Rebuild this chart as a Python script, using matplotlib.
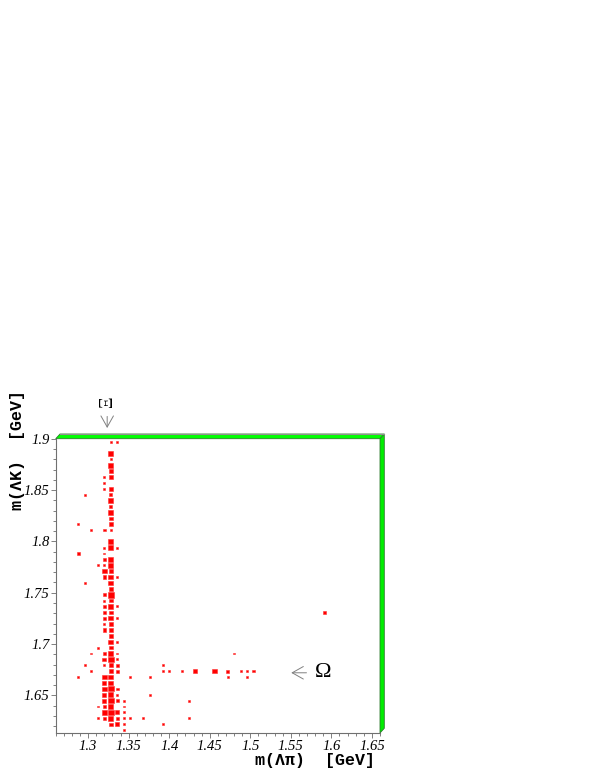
import numpy as np
import matplotlib
matplotlib.use("Agg")
import matplotlib.pyplot as plt
from matplotlib.patches import Rectangle, Polygon
from matplotlib.ticker import MultipleLocator, FuncFormatter

# tick labels in ROOT's italic Times
plt.rcParams["font.family"] = "Liberation Serif"
plt.rcParams["font.style"] = "italic"

# binning of the 2D histogram (box display)
x_lo, x_hi, nx = 1.26, 1.66, 50
y_hi, ny = 1.9, 50
bw = (x_hi - x_lo) / nx
bh = 0.005733
y_lo = y_hi - ny * bh

# filled bins: x bin offset from the Xi column, y row from the top, entries
xi_bin = 8
row_top = [0, 0, 2, 3, 4, 5, 6, 6, 7, 8, 8, 9, 9, 10, 11, 12, 13, 14, 14,
           15, 15, 15, 17, 18, 18, 18, 19, 19, 20, 20, 21, 21, 21, 22, 22,
           23, 23, 23, 24, 24, 25, 26, 26, 27, 27, 28, 28, 28, 29, 29, 29,
           30, 30, 30, 31, 31, 32, 32, 33, 34, 34, 35, 35,
           36, 36, 36, 36, 36, 37, 37, 37, 38, 38, 38, 38, 38,
           39, 39, 39, 39, 39, 39, 39, 39, 39, 39, 39, 39,
           40, 40, 40, 40, 40, 40, 40, 41, 41, 42, 42, 42, 43, 43, 43, 43,
           44, 44, 44, 44, 44, 45, 45, 45, 45, 46, 46, 46, 46,
           47, 47, 47, 47, 47, 47, 47, 47, 48, 48, 48, 48, 49]
col_off = [0, 1, 0, 0, 0, 0, -1, 0, -1, -1, 0, -4, 0, 0, 0, 0, 0, -5, 0,
           -3, -1, 0, 0, -1, 0, 1, -5, -1, -1, 0, -2, -1, 0, -1, 0,
           -1, 0, 1, -4, 0, 0, -1, 0, -1, 0, -1, 0, 1, -1, 0, 33,
           -1, 0, 1, -1, 0, -1, 0, 0, 0, 1, -2, 0,
           -3, -1, 0, 1, 19, -1, 0, 1, -4, -1, 0, 1, 8,
           -3, 0, 1, 8, 9, 11, 13, 16, 18, 20, 21, 22,
           -5, -1, 0, 3, 6, 18, 21, -1, 0, -1, 0, 1, -1, 0, 1, 6,
           -1, 0, 1, 2, 12, -2, -1, 0, 2, -1, 0, 1, 2,
           -2, -1, 0, 1, 2, 3, 5, 12, 0, 1, 2, 8, 2]
entries = [1, 1, 6, 1, 6, 4, 1, 3, 1, 1, 4, 1, 2, 6, 2, 6, 3, 1, 4,
           1, 2, 1, 6, 1, 6, 1, 2, 1, 2, 6, 1, 1, 6, 5, 4,
           3, 6, 1, 1, 6, 4, 3, 9, 1, 3, 2, 6, 1, 3, 3, 2,
           3, 5, 1, 1, 3, 3, 4, 4, 5, 1, 1, 3,
           1, 3, 5, 1, 1, 4, 7, 1, 1, 1, 4, 3, 1,
           1, 4, 3, 1, 1, 1, 5, 5, 3, 1, 1, 1,
           1, 6, 6, 1, 1, 1, 1, 4, 6, 6, 7, 2, 4, 6, 1, 1,
           4, 7, 2, 1, 1, 1, 3, 6, 1, 6, 9, 4, 1,
           1, 2, 6, 2, 1, 1, 1, 1, 3, 4, 1, 1, 1]

x_center = x_lo + bw * (xi_bin + np.array(col_off) + 0.5)
y_center = y_hi - bh * (np.array(row_top) + 0.5)
counts = np.array(entries, dtype=float)

fig = plt.figure(figsize=(5.95, 7.70), dpi=100)
W, H = 595.0, 770.0
ax = fig.add_axes([55.7 / W, 1 - 733 / H, (380 - 55.7) / W, (733 - 438.7) / H])
ax.set_xlim(x_lo, x_hi)
ax.set_ylim(y_lo, y_hi)

for x, y, c in zip(x_center, y_center, counts):
    f = 0.97 * np.sqrt(c / counts.max())
    ax.add_patch(Rectangle((x - bw * f / 2, y - bh * f / 2), bw * f, bh * f,
                           facecolor="#ff0000", edgecolor="#ff3030", lw=0.4))

# axes styling, ROOT-like
for s in ["top", "right"]:
    ax.spines[s].set_visible(False)
for s in ["left", "bottom"]:
    ax.spines[s].set_color("#707070")
    ax.spines[s].set_linewidth(0.8)

ax.xaxis.set_major_locator(MultipleLocator(0.05))
ax.xaxis.set_minor_locator(MultipleLocator(0.01))
ax.yaxis.set_major_locator(MultipleLocator(0.05))
ax.yaxis.set_minor_locator(MultipleLocator(0.01))
fmt = FuncFormatter(lambda v, p: f"{v:g}")
ax.xaxis.set_major_formatter(fmt)
ax.yaxis.set_major_formatter(fmt)
ax.tick_params(which="both", direction="out", color="#808080", width=0.7,
               labelsize=10.5)
ax.tick_params(which="major", length=3.4)
ax.tick_params(which="minor", length=2.0)
ax.tick_params(axis="y", pad=1.0)
ax.tick_params(axis="x", pad=1.5)

# 3D green frame on top and right
dx, dy = 4.3 / 324.3, 4.7 / 294.3
top = Polygon([(0, 1), (1, 1), (1 + dx, 1 + dy), (dx, 1 + dy)], closed=True,
              transform=ax.transAxes, clip_on=False, facecolor="#00ff00",
              edgecolor="#2f7a2f", lw=0.6)
right = Polygon([(1, 1), (1 + dx, 1 + dy), (1 + dx, dy), (1, 0)], closed=True,
                transform=ax.transAxes, clip_on=False, facecolor="#00ee00",
                edgecolor="#2f7a2f", lw=0.6)
ax.add_patch(top)
ax.add_patch(right)
ax.plot([dx, 1 + dx], [1 + dy, 1 + dy], transform=ax.transAxes,
        color="#909090", lw=0.8, clip_on=False)

# axis titles
fig.text(18 / W, 1 - 450 / H, "m(ΛK)  [GeV]", rotation=90, ha="center",
         va="center", fontfamily="Liberation Mono", fontweight="bold",
         fontstyle="normal", fontsize=12)
fig.text(375 / W, 1 - 761 / H, "m(Λπ)  [GeV]", ha="right", va="center",
         fontfamily="Liberation Mono", fontweight="bold",
         fontstyle="normal", fontsize=12)

# particle markers
arrow = dict(arrowstyle="->,head_length=0.8,head_width=0.45",
             color="#808080", lw=0.7, shrinkA=0, shrinkB=0)
ax.annotate("", xy=(1.5505, 1.672), xytext=(1.5693, 1.672),
            arrowprops=arrow, annotation_clip=False)
ax.text(1.590, 1.672, "Ω", ha="center", va="center",
        fontfamily="Liberation Serif", fontstyle="normal", fontsize=16)
ax.annotate("", xy=(1.3235, 1.9104), xytext=(1.3235, 1.9217),
            arrowprops=arrow, annotation_clip=False)
ax.text(1.3237, 1.937, "Ξ", rotation=90, ha="center", va="center",
        fontfamily="Liberation Serif", fontstyle="normal", fontsize=13,
        clip_on=False)

fig.savefig("out.png", dpi=100)
